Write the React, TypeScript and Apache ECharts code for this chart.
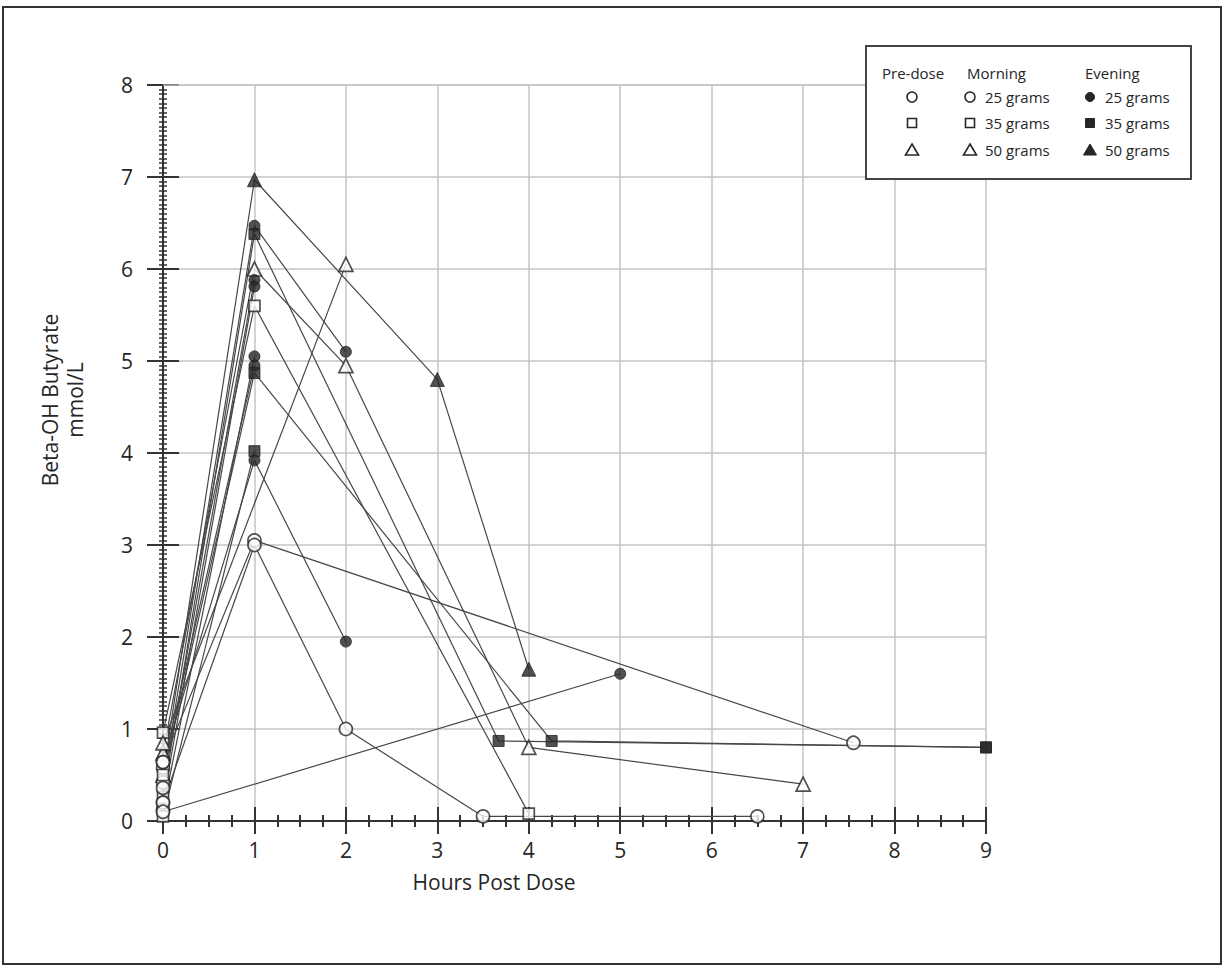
import React, { useEffect, useRef } from "react";
import * as echarts from "echarts";

// ---- data (hours post dose, beta-OH butyrate mmol/L) ----
const evening50a = [[0, 0.5], [1, 6.97], [3, 4.8], [4, 1.65]];
const evening25a = [[0, 0.42], [1, 6.47], [2, 5.1]];
const evening35a = [[0, 0.26], [1, 6.38], [3.67, 0.87], [9, 0.8]];
const morning50a = [[0, 0.74], [1, 6.0], [2, 4.95], [4, 0.8], [7, 0.4]];
const evening25b = [[0, 0.36], [1, 5.88]];
const evening25c = [[0, 0.2], [1, 5.81]];
const morning35a = [[0, 0.96], [1, 5.6], [4, 0.08]];
const evening25d = [[0, 0.12], [1, 5.05]];
const evening25e = [[0, 0.58], [1, 4.95]];
const evening35b = [[0, 0.5], [1, 4.87], [4.25, 0.87], [9, 0.8]];
const evening35c = [[0, 0.05], [1, 4.02]];
const evening25f = [[0, 0.64], [1, 3.92], [2, 1.95]];
const morning25a = [[0, 0.64], [1, 3.05], [7.55, 0.85]];
const morning25b = [[0, 0.2], [1, 3.0], [2, 1.0], [3.5, 0.05], [6.5, 0.05]];
const morning50b = [[0, 0.85], [2, 6.05]];
const evening25g = [[0, 0.1], [5, 1.6]];

const xTickValues = [0, 1, 2, 3, 4, 5, 6, 7, 8, 9];
const yTickValues = [0, 1, 2, 3, 4, 5, 6, 7, 8];
const topGridLine = [[0, 8], [9, 8]];

const legendHeaders = ["Pre-dose", "Morning", "Evening"];
const legendDoses = ["25 grams", "35 grams", "50 grams"];

type Shape = "circle" | "rect" | "triangle";
const subjects: { data: number[][]; shape: Shape; evening: boolean }[] = [
  { data: evening50a, shape: "triangle", evening: true },
  { data: evening25a, shape: "circle", evening: true },
  { data: evening35a, shape: "rect", evening: true },
  { data: morning50a, shape: "triangle", evening: false },
  { data: evening25b, shape: "circle", evening: true },
  { data: evening25c, shape: "circle", evening: true },
  { data: morning35a, shape: "rect", evening: false },
  { data: evening25d, shape: "circle", evening: true },
  { data: evening25e, shape: "circle", evening: true },
  { data: evening35b, shape: "rect", evening: true },
  { data: evening35c, shape: "rect", evening: true },
  { data: evening25f, shape: "circle", evening: true },
  { data: morning25a, shape: "circle", evening: false },
  { data: morning25b, shape: "circle", evening: false },
  { data: morning50b, shape: "triangle", evening: false },
  { data: evening25g, shape: "circle", evening: true },
];

const FONT = "'Open Sans', 'Noto Sans', sans-serif";
const INK = "#262626";
const GRID = "#c4c4c4";

function symbolSize(shape: Shape, filled: boolean) {
  if (shape === "triangle") return 14;
  if (shape === "rect") return 11;
  return filled ? 11 : 13;
}

export default function App() {
  const ref = useRef<HTMLDivElement>(null);

  useEffect(() => {
    if (!ref.current) return;
    const chart = echarts.init(ref.current, null, { renderer: "svg" });

    const series: any[] = [
      {
        type: "line",
        data: topGridLine,
        symbol: "none",
        lineStyle: { color: GRID, width: 1.5 },
        z: 1,
        silent: true,
      },
    ];
    subjects.forEach((s) => {
      series.push({
        type: "line",
        data: s.data,
        symbol: "none",
        lineStyle: { color: "#474747", width: 1.2 },
        z: 2,
        silent: true,
      });
    });
    subjects.forEach((s) => {
      series.push({
        type: "scatter",
        z: 4,
        symbol: s.shape,
        data: s.data.map((p) => {
          const filled = s.evening && p[0] !== 0;
          return {
            value: p,
            symbolSize: symbolSize(s.shape, filled),
            itemStyle: filled
              ? { color: INK, borderColor: INK, borderWidth: 1 }
              : { color: "#ffffff", borderColor: INK, borderWidth: 1.7 },
          };
        }),
      });
    });

    const lx = 866, ly = 46;
    const colX = [912, 970, 1090];
    const rowY = [97, 123, 150];
    const legendEls: any[] = [
      {
        type: "rect",
        shape: { x: lx, y: ly, width: 325, height: 133 },
        style: { fill: "#fff", stroke: "#444", lineWidth: 2 },
        z: 100,
      },
    ];
    const hdrX = [882, 967, 1085];
    legendHeaders.forEach((h, i) => {
      legendEls.push({
        type: "text",
        x: hdrX[i],
        y: 73,
        style: { text: h, fill: INK, font: `15px ${FONT}`, textAlign: "left", textVerticalAlign: "middle" },
        z: 101,
      });
    });
    const shapes: Shape[] = ["circle", "rect", "triangle"];
    shapes.forEach((sh, r) => {
      [0, 1, 2].forEach((c) => {
        const cx = colX[c], cy = rowY[r];
        const filled = c === 2;
        const st = filled
          ? { fill: INK, stroke: INK, lineWidth: 1 }
          : { fill: "#fff", stroke: INK, lineWidth: 1.6 };
        if (sh === "circle") {
          legendEls.push({ type: "circle", shape: { cx, cy, r: filled ? 4.5 : 5 }, style: st, z: 101 });
        } else if (sh === "rect") {
          legendEls.push({ type: "rect", shape: { x: cx - 4.5, y: cy - 4.5, width: 9, height: 9 }, style: st, z: 101 });
        } else {
          legendEls.push({
            type: "polygon",
            shape: { points: [[cx, cy - 6], [cx + 6.5, cy + 5], [cx - 6.5, cy + 5]] },
            style: st,
            z: 101,
          });
        }
        if (c > 0) {
          legendEls.push({
            type: "text",
            x: cx + 15,
            y: cy,
            style: { text: legendDoses[r], fill: INK, font: `15px ${FONT}`, textAlign: "left", textVerticalAlign: "middle" },
            z: 101,
          });
        }
      });
    });

    const baseX = {
      type: "value",
      min: 0,
      max: 9,
      interval: 1,
      position: "bottom",
      axisLine: { show: true, onZero: false, lineStyle: { color: "#333", width: 2 } },
    };
    const baseY = {
      type: "value",
      min: 0,
      max: 8,
      interval: 1,
      position: "left",
      axisLine: { show: true, onZero: false, lineStyle: { color: "#333", width: 2 } },
    };

    chart.setOption({
      animation: false,
      backgroundColor: "#ffffff",
      grid: { left: 163, right: 239, top: 85, bottom: 147, containLabel: false, outerBoundsMode: "none" },
      xAxis: [
        {
          ...baseX,
          axisTick: { show: true, inside: true, length: 14, lineStyle: { color: "#333", width: 2 } },
          minorTick: { show: true, splitNumber: 4, length: 6, lineStyle: { color: "#333", width: 2 } },
          axisLabel: {
            show: true,
            margin: 18,
            fontSize: 21,
            color: INK,
            fontFamily: FONT,
            formatter: (v: number) => (xTickValues.includes(v) ? String(v) : ""),
          },
          splitLine: { show: true, lineStyle: { color: GRID, width: 1.5 } },
        },
        {
          ...baseX,
          axisTick: { show: true, inside: false, length: 13, lineStyle: { color: "#333", width: 2 } },
          minorTick: { show: true, splitNumber: 4, length: 6, lineStyle: { color: "#333", width: 2 } },
          axisLabel: { show: false },
          splitLine: { show: false },
        },
      ],
      yAxis: [
        {
          ...baseY,
          axisTick: { show: true, inside: true, length: 16, lineStyle: { color: "#333", width: 2 } },
          minorTick: { show: true, splitNumber: 20, length: 4, lineStyle: { color: "#333", width: 1.5 } },
          axisLabel: {
            show: true,
            margin: 30,
            fontSize: 21,
            color: INK,
            fontFamily: FONT,
            formatter: (v: number) => (yTickValues.includes(v) ? String(v) : ""),
          },
          splitLine: { show: true, lineStyle: { color: GRID, width: 1.5 } },
        },
        {
          ...baseY,
          axisTick: { show: true, inside: false, length: 16, lineStyle: { color: "#333", width: 2 } },
          minorTick: { show: true, splitNumber: 20, length: 4, lineStyle: { color: "#333", width: 1.5 } },
          axisLabel: { show: false },
          splitLine: { show: false },
        },
      ],
      series,
      graphic: [
        {
          type: "rect",
          shape: { x: 3, y: 7, width: 1218, height: 957 },
          style: { fill: "none", stroke: "#333", lineWidth: 2 },
          z: 0,
          silent: true,
        },
        {
          type: "text",
          x: 494,
          y: 882,
          style: { text: "Hours Post Dose", fill: INK, font: `21px ${FONT}`, textAlign: "center", textVerticalAlign: "middle" },
        },
        {
          type: "text",
          x: 62,
          y: 400,
          rotation: Math.PI / 2,
          style: {
            text: "Beta-OH Butyrate\nmmol/L",
            fill: INK,
            font: `21px ${FONT}`,
            lineHeight: 25,
            textAlign: "center",
            textVerticalAlign: "middle",
          },
        },
        ...legendEls,
      ],
    });

    return () => chart.dispose();
  }, []);

  return (
    <div
      ref={ref}
      style={{ position: "absolute", left: 0, top: 0, width: 1225, height: 968 }}
    />
  );
}
